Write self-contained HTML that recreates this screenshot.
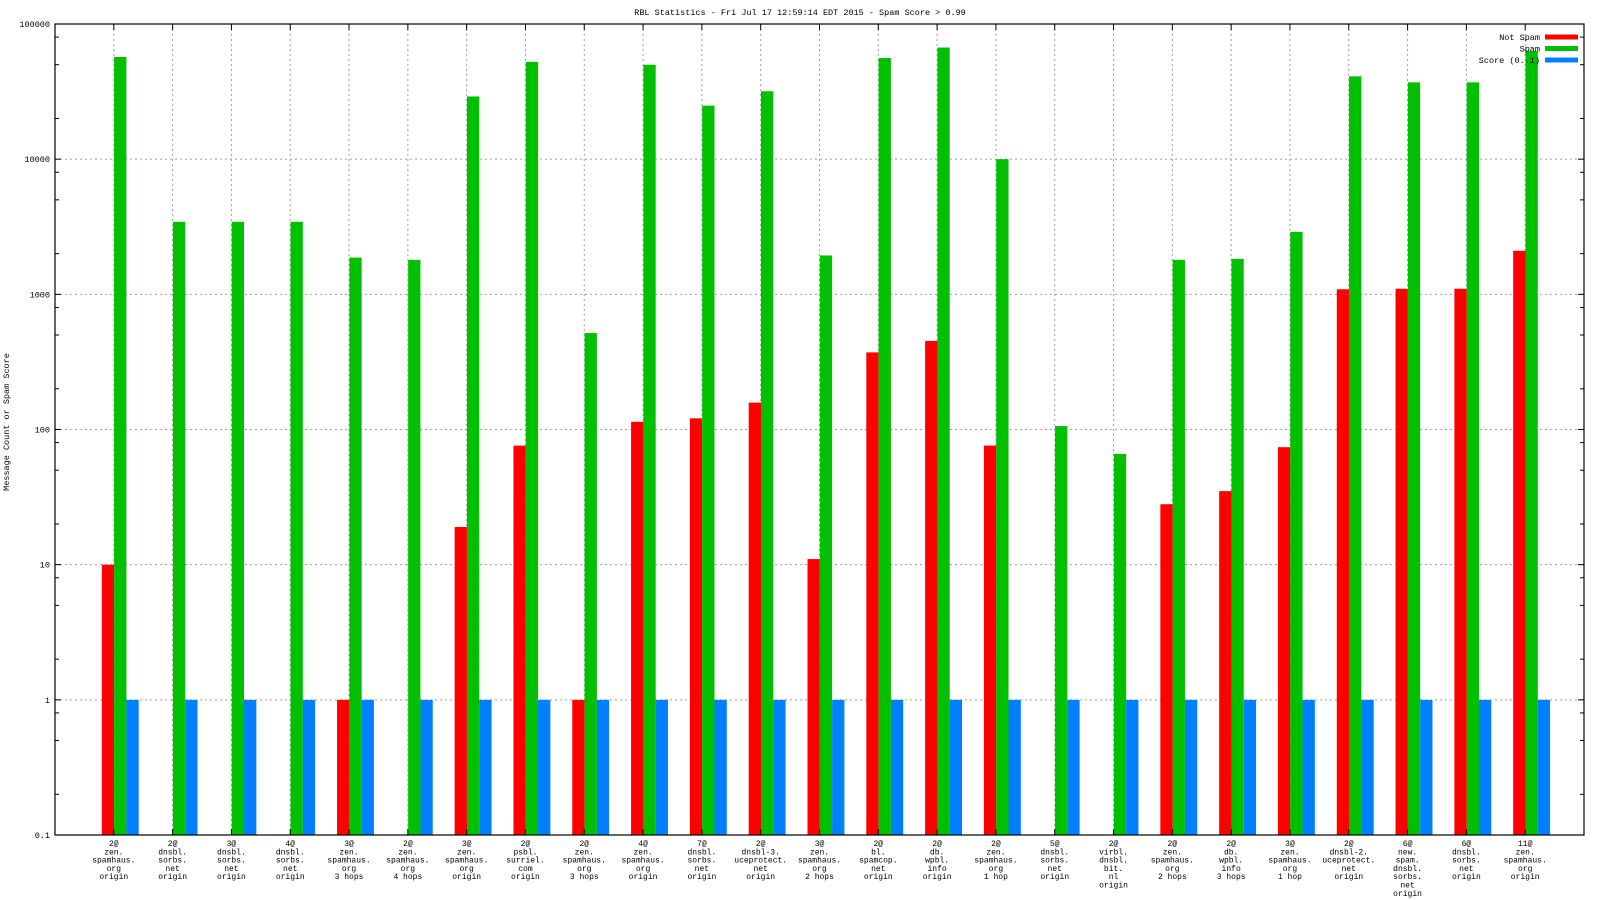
<!DOCTYPE html>
<html><head><meta charset="utf-8"><style>
html,body{margin:0;padding:0;background:#fff;}
svg{display:block;font-family:"Liberation Mono",monospace;}
</style></head><body>
<svg id="chart" width="1600" height="900" viewBox="0 0 1600 900" xmlns="http://www.w3.org/2000/svg">
<text x="800" y="15" font-size="8.5" text-anchor="middle">RBL Statistics - Fri Jul 17 12:59:14 EDT 2015 - Spam Score &gt; 0.99</text>
<text x="0" y="0" font-size="8.5" text-anchor="middle" transform="translate(9,422) rotate(-90)">Message Count or Spam Score</text>
<g id="grid"></g><g id="bars"></g><g id="axes"></g><g id="labels"></g>
<g id="legend"></g>
</svg>
<script>
const categories = [
 ["2@","zen.","spamhaus.","org","origin"],["2@","dnsbl.","sorbs.","net","origin"],["3@","dnsbl.","sorbs.","net","origin"],["4@","dnsbl.","sorbs.","net","origin"],
 ["3@","zen.","spamhaus.","org","3 hops"],["2@","zen.","spamhaus.","org","4 hops"],["3@","zen.","spamhaus.","org","origin"],["2@","psbl.","surriel.","com","origin"],
 ["2@","zen.","spamhaus.","org","3 hops"],["4@","zen.","spamhaus.","org","origin"],["7@","dnsbl.","sorbs.","net","origin"],["2@","dnsbl-3.","uceprotect.","net","origin"],
 ["3@","zen.","spamhaus.","org","2 hops"],["2@","bl.","spamcop.","net","origin"],["2@","db.","wpbl.","info","origin"],["2@","zen.","spamhaus.","org","1 hop"],
 ["5@","dnsbl.","sorbs.","net","origin"],["2@","virbl.","dnsbl.","bit.","nl","origin"],["2@","zen.","spamhaus.","org","2 hops"],["2@","db.","wpbl.","info","3 hops"],
 ["3@","zen.","spamhaus.","org","1 hop"],["2@","dnsbl-2.","uceprotect.","net","origin"],["6@","new.","spam.","dnsbl.","sorbs.","net","origin"],["6@","dnsbl.","sorbs.","net","origin"],
 ["11@","zen.","spamhaus.","org","origin"]];
const notSpam = [10,0,0,0,1,0,19,76,1,114,121,158,11,372,452,76,0,0,28,35,74,1090,1100,1100,2100];
const spam = [57000,3440,3440,3440,1870,1800,29100,52500,517,49900,24900,31800,1940,56000,67000,10000,106,66,1800,1830,2900,41000,37000,37000,63000];
const score = [1,1,1,1,1,1,1,1,1,1,1,1,1,1,1,1,1,1,1,1,1,1,1,1,1];
const yTicks = [0.1,1,10,100,1000,10000,100000];
const yTickLabels = ["0.1","1","10","100","1000","10000","100000"];

const NS="http://www.w3.org/2000/svg";
const L=55,R=1584,T=24,B=835;
const X=i=>L+(i+1)*(R-L)/26;
const Y=v=>B-(Math.log10(v)+1)*(B-T)/6;
function mk(tag,attrs,parent){const e=document.createElementNS(NS,tag);for(const k in attrs)e.setAttribute(k,attrs[k]);parent.appendChild(e);return e;}
const grid=document.getElementById('grid'),bars=document.getElementById('bars'),axes=document.getElementById('axes'),labels=document.getElementById('labels'),legend=document.getElementById('legend');
// horizontal grid and y ticks
yTicks.forEach((v,k)=>{
  const y=Y(v);
  if(k>0&&k<yTicks.length-1){const g=mk('line',{x1:L,x2:R,y1:y,y2:y,stroke:'#a0a0a0','stroke-width':1,'stroke-dasharray':'2,3'},grid);
  
  }
  const t=mk('text',{x:L-5,y:y+3,'font-size':8.5,'text-anchor':'end'},axes);t.textContent=yTickLabels[k];
  
  
  mk('line',{x1:L,x2:L+6,y1:y,y2:y,stroke:'#000'},axes);
  mk('line',{x1:R-6,x2:R,y1:y,y2:y,stroke:'#000'},axes);
  if(k<yTicks.length-1){[2,5,8].forEach(m=>{const yy=Y(v*m);
    mk('line',{x1:L,x2:L+4,y1:yy,y2:yy,stroke:'#000'},axes);
    mk('line',{x1:R-4,x2:R,y1:yy,y2:yy,stroke:'#000'},axes);});}
});
const colors=['#ff0000','#00c000','#0080ff'];
const series=[notSpam,spam,score];
const names=['not-spam','spam','score'];
categories.forEach((c,i)=>{
  const x=X(i);
  const g=mk('line',{x1:x,x2:x,y1:T,y2:B,stroke:'#a0a0a0','stroke-width':1,'stroke-dasharray':'2,3'},grid);
  
  
  mk('line',{x1:x,x2:x,y1:T,y2:T+6,stroke:'#000'},axes);
  mk('line',{x1:x,x2:x,y1:B-6,y2:B,stroke:'#000'},axes);
  series.forEach((s,j)=>{
    const v=s[i]; if(!(v>0))return;
    const y=Y(v);
    const r=mk('rect',{x:x-12+12.3*j,y:y,width:12.3,height:B-y,fill:colors[j]},bars);
    
    
  });
  const t=mk('text',{x:x,y:846,'font-size':8,'text-anchor':'middle'},labels);
  
  
  c.forEach((line,k)=>{const ts=mk('tspan',{x:x,dy:k?8.3:0},t);ts.textContent=line;});
});
mk('rect',{x:L,y:T,width:R-L,height:B-T,fill:'none',stroke:'#000','stroke-width':1.2},axes);
const legNames=['Not Spam','Spam','Score (0..1)'];
legNames.forEach((n,j)=>{
  const y=37+11.5*j;
  const t=mk('text',{x:1540,y:y+3,'font-size':8.5,'text-anchor':'end'},legend);t.textContent=n;
  
  
  const r=mk('rect',{x:1545,y:y-2.5,width:33,height:5,fill:colors[j]},legend);
  
  
});
</script>
</body></html>
